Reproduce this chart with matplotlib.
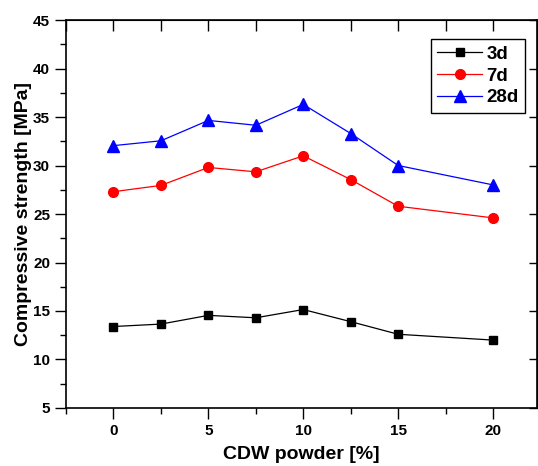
import matplotlib
matplotlib.use('Agg')
import matplotlib.pyplot as plt
from matplotlib.ticker import MultipleLocator

plt.rcParams['font.family'] = ['Liberation Sans', 'DejaVu Sans']
plt.rcParams['font.weight'] = 'bold'

# CDW powder content [%]
cdw = [0, 2.5, 5, 7.5, 10, 12.5, 15, 20]

# compressive strength [MPa]
strength_3d = [13.4, 13.65, 14.55, 14.3, 15.15, 13.9, 12.6, 12.0]
strength_7d = [27.3, 27.95, 29.8, 29.35, 31.0, 28.55, 25.8, 24.6]
strength_28d = [32.05, 32.55, 34.65, 34.15, 36.3, 33.3, 30.0, 28.0]

fig = plt.figure(figsize=(5.38, 4.66), dpi=100)
ax = fig.add_axes([0.1227, 0.1245, 0.875, 0.8325])

ax.plot(cdw, strength_3d, color='black', lw=0.9, marker='s', ms=6, label='3d')
ax.plot(cdw, strength_7d, color='red', lw=0.9, marker='o', ms=7, label='7d')
ax.plot(cdw, strength_28d, color='blue', lw=0.9, marker='^', ms=8, label='28d')

ax.set_xlim(-2.5, 22.3)
ax.set_ylim(5, 45)
ax.xaxis.set_major_locator(MultipleLocator(5))
ax.xaxis.set_minor_locator(MultipleLocator(2.5))
ax.yaxis.set_major_locator(MultipleLocator(5))
ax.yaxis.set_minor_locator(MultipleLocator(2.5))

ax.tick_params(which='major', direction='out', length=8, width=1, labelsize=11)
ax.tick_params(which='minor', direction='out', length=4, width=1)

# inward ticks on top and right
top = ax.secondary_xaxis('top')
top.xaxis.set_major_locator(MultipleLocator(2.5))
top.tick_params(direction='in', length=8, width=1, labeltop=False)
right = ax.secondary_yaxis('right')
right.yaxis.set_major_locator(MultipleLocator(5))
right.tick_params(direction='in', length=6, width=1, labelright=False)

for s in ax.spines.values():
    s.set_linewidth(1.2)

ax.set_xlabel('CDW powder [%]', fontsize=14, fontweight='bold', labelpad=6)
ax.set_ylabel('Compressive strength [MPa]', fontsize=14, fontweight='bold', labelpad=1)

leg = ax.legend(loc='upper right', bbox_to_anchor=(0.975, 0.951), borderaxespad=0,
                fontsize=13.5, fancybox=False, edgecolor='black', handlelength=2.4,
                borderpad=0.35, labelspacing=0.25, handletextpad=0.2)
leg.get_frame().set_linewidth(1.0)
leg.get_frame().set_alpha(1.0)

fig.savefig('out.png', dpi=100)
